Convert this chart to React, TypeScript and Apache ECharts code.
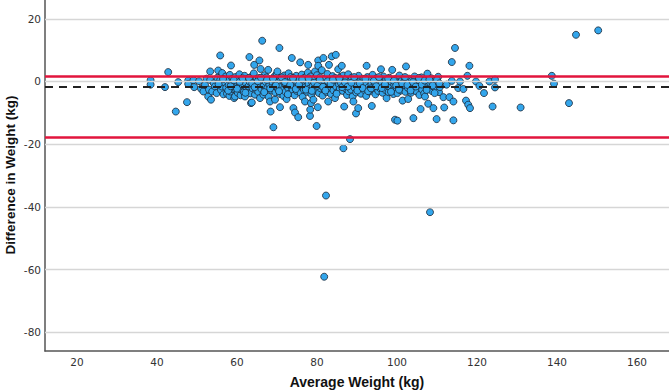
import React, { useEffect, useRef } from "react";
import * as echarts from "echarts";

const xTickLabels = [20, 40, 60, 80, 100, 120, 140, 160];
const yTickLabels = [-80, -60, -40, -20, 0, 20];
const yAxisTitle = "Difference in Weight (kg)";

const meanDiff = -1.6;
const upperLoA = 1.8;
const lowerLoA = -17.8;

const lowRangePoints: [number, number][] = [
  [38.4, 0.4], [38.4, -1.0], [42.0, -1.8], [42.8, 3.0], [44.7, -9.6], [45.3, -0.2], [47.5, -6.6],
  [47.8, 0.3], [47.8, -0.8], [49.1, 0.4], [49.3, -1.8], [50.5, 0.1], [51.0, -2.3], [51.6, -3.2],
  [52.0, -1.1], [52.4, 0.9], [52.8, -4.8], [53.0, -2.6], [53.3, 0.5], [53.3, 3.2], [53.5, -5.8],
  [53.8, -3.2], [54.2, -0.6], [54.5, -1.6], [54.9, -3.7], [55.1, 1.2], [55.3, 3.5], [55.8, 8.3],
  [55.8, 0.5], [56.0, -2.7], [56.2, -1.6], [56.3, 2.7], [56.6, -4.1], [56.9, -0.3],
];

const midRangePoints: [number, number][] = [
  [57.2, 1.6], [57.3, -2.0], [57.5, -3.9], [57.6, 0.2], [57.9, -1.2],
  [58.1, -4.6], [58.2, 2.1], [58.3, -3.2], [58.5, 5.1], [58.6, -0.7], [58.8, -2.4], [58.9, 0.9],
  [59.1, -1.6], [59.3, -5.3], [59.5, -4.8], [59.6, 1.4], [59.8, -2.8], [59.9, -0.2],
  [60.1, 0.7], [60.2, -3.6], [60.4, -1.9], [60.6, 2.3], [60.8, -0.9], [60.9, -4.4],
  [61.1, -2.5], [61.3, 0.3], [61.5, -1.3], [61.7, -3.4], [61.9, 1.8],
  [62.0, -4.8], [62.2, -0.5], [62.4, -2.1], [62.6, 0.9], [62.8, -3.0], [62.9, -1.5],
  [63.1, 7.8], [63.2, -0.1], [63.4, -3.8], [63.5, -6.9], [63.6, 1.5], [63.7, -6.7], [63.9, -2.2],
  [64.0, -1.0], [64.2, 2.6], [64.3, 5.3], [64.5, -4.2], [64.6, -0.4], [64.8, -2.7], [64.9, 0.8],
  [65.1, -1.8], [65.3, -3.3], [65.5, 1.1], [65.6, 6.7], [65.75, -5.3], [65.9, 4.0], [65.9, -0.8],
  [66.1, -2.4], [66.3, 13.0], [66.4, 0.4], [66.6, -4.2], [66.7, -1.4], [66.9, 2.0],
  [67.0, -3.1], [67.2, -0.2], [67.4, 1.3], [67.6, -2.0], [67.8, 3.7], [67.9, -4.9],
  [68.1, -1.1], [68.25, -6.4], [68.4, -9.6], [68.5, 0.6], [68.7, -2.9], [68.9, -0.4],
  [69.1, -14.6], [69.2, -1.9], [69.3, 1.5], [69.5, -5.8], [69.6, -3.5], [69.8, -0.9], [69.9, 2.4],
  [70.1, 3.2], [70.2, -2.3], [70.4, -0.1], [70.6, 10.7], [70.75, -8.2], [70.8, -4.0], [70.9, 1.0],
  [71.1, -1.5], [71.3, -2.8], [71.5, 0.3], [71.6, -4.6], [71.8, 1.9], [71.9, -0.7],
  [72.1, -3.3], [72.3, -1.2], [72.4, -5.6], [72.6, 0.8], [72.8, -2.1], [72.9, 2.6],
  [73.0, -0.3], [73.2, -3.8], [73.4, 1.4], [73.6, -1.7], [73.7, 7.5], [73.9, -2.6],
  [74.1, -8.5], [74.2, 0.5], [74.4, -4.4], [74.5, -9.9], [74.6, -1.0], [74.8, 1.8], [74.9, -3.0],
  [75.1, -0.4], [75.3, -11.4], [75.4, -2.2], [75.6, 0.9], [75.8, 6.1], [75.9, -3.6],
  [76.0, -1.4], [76.2, 2.2], [76.4, -4.9], [76.5, -0.1], [76.7, -2.6], [76.9, 1.2],
  [77.0, -6.4], [77.1, -1.8], [77.3, 0.4], [77.5, -3.3], [77.7, 2.8], [77.8, 5.3], [77.9, -0.8],
  [78.1, -2.3], [78.25, -11.0], [78.3, -9.0], [78.4, 1.6], [78.5, -6.9], [78.6, -4.1], [78.8, -0.3], [78.9, -1.5],
  [79.1, -5.8], [79.2, 0.8], [79.4, -2.9], [79.5, 3.2], [79.7, -1.1], [79.9, -14.2],
  [80.0, 2.0], [80.2, -8.2], [80.3, 6.7], [80.3, 5.0], [80.5, -3.7], [80.6, -0.6], [80.8, 1.3], [80.9, -2.2],
  [81.0, -1.0], [81.2, 3.6], [81.4, -4.5], [81.6, 7.5], [81.7, 0.2], [81.9, -2.7],
  [82.0, -1.6], [82.2, 1.0], [82.4, -3.4], [82.6, 2.4], [82.8, -6.4], [82.9, -0.4],
  [83.0, 5.3], [83.1, -2.0], [83.3, 0.6], [83.5, -4.0], [83.7, 8.0], [83.8, -1.2], [83.9, 1.7],
  [84.1, -2.8], [84.3, -0.2], [84.5, -5.3], [84.6, 1.1], [84.7, 8.5], [84.8, -1.7],
  [85.0, -3.5], [85.2, 0.4], [85.3, 3.9], [85.5, -1.0], [85.7, -2.4], [85.9, 1.5],
  [86.0, -0.5], [86.2, 5.0], [86.4, -3.0], [86.6, -21.3], [86.6, 1.9], [86.8, -8.0], [86.9, -1.5],
  [87.1, -2.2], [87.3, 0.7], [87.5, -4.3], [87.6, -0.9], [87.8, 2.3], [87.9, -3.1],
  [88.0, -1.3], [88.25, -18.4], [88.3, 0.2], [88.5, -2.6], [88.7, 1.2], [88.9, -4.8],
  [89.1, -6.4], [89.2, -0.6], [89.4, -2.0], [89.75, -10.2], [89.6, 0.9], [89.8, -3.5],
  [90.0, -1.1], [90.3, -8.5], [90.4, 1.8], [90.6, -2.4], [90.8, 0.1],
];

const upperRangePoints: [number, number][] = [
  [91.0, -3.9], [91.3, -1.4], [91.6, 0.8], [91.8, -2.7],
  [92.0, -0.3], [92.4, 5.0], [92.3, -4.6], [92.6, 1.4], [92.9, -1.8],
  [93.1, -3.2], [93.3, 0.5], [93.7, -7.8], [93.6, -1.0], [93.9, 2.1],
  [94.1, -2.3], [94.4, -0.4], [94.6, -4.1], [94.9, 1.0],
  [95.1, -1.6], [95.3, -3.0], [95.6, 0.3], [95.8, -2.2],
  [96.0, 3.9], [96.1, -0.8], [96.4, -3.6], [96.6, 1.6], [96.9, -1.3],
  [97.1, -2.7], [97.4, -5.3], [97.3, 0.6], [97.7, -0.5], [97.9, -3.4],
  [98.1, 1.2], [98.3, -1.9], [98.6, -0.1], [98.8, 3.7], [98.9, -2.8],
  [99.1, -4.0], [99.3, -1.0], [99.5, -12.2], [99.6, 0.8], [99.9, -2.1],
  [100.1, -3.7], [100.1, -12.5], [100.3, -0.6], [100.6, 1.9], [100.8, -1.6],
  [101.0, -2.9], [101.2, 0.3], [101.4, -6.1], [101.6, -1.2], [101.9, 1.1],
  [102.1, -3.3], [102.25, 4.8], [102.4, -0.4], [102.8, -5.6], [102.7, -2.0],
  [103.0, 0.9], [103.2, -1.5], [103.5, -3.6], [103.7, 0.2], [103.9, -2.4],
  [104.1, -11.7], [104.2, -0.8], [104.4, 1.6], [104.6, -2.9], [104.9, -3.2],
  [105.1, -1.1], [105.3, 0.5], [105.6, -4.3], [105.9, -8.8], [105.9, -1.9],
  [106.1, 1.3], [106.3, -2.6], [106.6, -0.3], [106.8, -3.8],
  [107.0, -4.8], [107.2, -1.3], [107.5, 0.7], [107.6, 2.5], [107.8, -7.1],
  [108.0, -2.2], [108.3, -0.5], [108.6, 1.0], [108.8, -3.1],
  [109.1, -8.5], [109.2, -1.7], [109.5, 0.3], [109.7, -2.6], [109.9, -12.0],
  [110.1, -0.9], [110.3, 1.5], [110.5, -3.4], [110.7, -1.8],
];

const bandFillPoints: [number, number][] = [
  [55.4, -0.9], [56.5, 0.8], [57.8, -2.9], [58.4, -1.5], [59.2, 0.4], [60.0, -2.3], [60.7, -0.1],
  [61.4, 1.0], [62.1, -3.6], [63.0, 1.1], [63.8, -0.6], [64.4, -1.8], [65.2, 0.1], [66.0, 1.2],
  [66.8, -3.4], [67.5, 0.5], [68.3, -2.2], [69.0, 0.9], [69.7, -1.3], [70.5, -3.1], [71.2, 1.3],
  [72.0, -0.2], [72.7, -4.1], [73.3, -1.1], [74.0, 1.1], [74.7, -2.4], [75.5, -1.0], [76.3, 0.7],
  [77.2, -2.6], [77.9, 1.0], [78.7, -3.0], [79.3, -0.4], [80.1, -1.4], [80.7, 0.6], [81.5, -1.7],
  [82.1, -2.9], [82.7, 0.1], [83.4, -0.8], [84.0, 0.6], [84.9, -3.9], [85.6, 1.0], [86.3, -1.8],
  [87.0, -0.3], [87.7, -1.6], [88.6, -0.4], [89.3, 1.4], [90.1, -2.9], [90.7, -0.6], [91.4, -2.1],
  [92.1, 0.9], [92.8, -3.1], [93.5, -2.2], [94.2, 0.2], [94.8, -1.5], [95.5, 1.4], [96.2, -2.1],
  [97.0, -0.9], [97.8, 0.9], [98.5, -3.3], [99.2, 0.2], [99.8, -1.3], [100.5, -2.6], [101.3, -0.7],
  [102.0, 1.4], [102.6, -1.1], [103.4, -2.9], [104.0, -0.2], [104.7, -1.6], [105.5, 1.1],
  [106.2, -1.0], [106.9, 0.3], [107.4, -2.7], [108.1, 0.6], [108.9, -1.3], [109.4, -3.7],
  [110.0, 0.5], [110.6, -0.6],
];

const highRangePoints: [number, number][] = [
  [111.6, -5.0], [111.8, -8.3], [112.4, -1.0], [113.1, -5.0], [113.7, 6.2], [113.7, 0.2],
  [114.1, -6.4], [114.1, -12.4], [114.5, 10.7], [115.3, -2.1], [115.75, 0.0], [116.6, -2.4],
  [117.25, -6.1], [117.6, 1.8], [117.8, -7.4], [118.1, 5.0], [118.25, -8.5], [119.75, 0.0],
  [120.6, -1.4], [121.75, -3.7], [123.1, 0.0], [123.9, -8.0], [124.5, 0.6], [124.5, -1.9],
  [130.9, -8.3], [138.7, 1.8], [139.25, -0.7], [143.0, -6.9], [144.75, 14.9], [150.3, 16.3],
];

const outlierPoints: [number, number][] = [
  [81.8, -62.3], [82.25, -36.4], [108.25, -41.7],
];

export default function App() {
  const ref = useRef<HTMLDivElement>(null);

  useEffect(() => {
    if (!ref.current) return;
    const chart = echarts.init(ref.current, undefined, { renderer: "svg" });
    const allPoints = [
      ...lowRangePoints,
      ...midRangePoints,
      ...upperRangePoints,
      ...bandFillPoints,
      ...highRangePoints,
      ...outlierPoints,
    ];
    const tickFont = "DejaVu Sans, Verdana, sans-serif";
    const titleFont = "Liberation Sans, Arial, sans-serif";
    chart.setOption({
      animation: false,
      backgroundColor: "#ffffff",
      grid: { left: 45, right: 0, top: 0, bottom: 41, containLabel: false, outerBoundsMode: "none" },
      graphic: [
        {
          type: "text",
          x: 10,
          y: 175,
          rotation: Math.PI / 2,
          style: {
            text: yAxisTitle,
            fontFamily: titleFont,
            fontWeight: "bold",
            fontSize: 13.5,
            fill: "#111",
            align: "center",
            verticalAlign: "middle",
          },
        },
      ],
      xAxis: {
        type: "value",
        min: 12,
        max: 168,
        name: "Average Weight (kg)",
        nameLocation: "middle",
        nameGap: 24,
        nameTextStyle: { fontFamily: titleFont, fontWeight: "bold", fontSize: 14, color: "#111" },
        axisLine: { show: true, onZero: false, lineStyle: { color: "#555", width: 1.5 } },
        axisTick: { show: false },
        splitLine: { show: false },
        axisLabel: {
          customValues: xTickLabels,
          fontFamily: tickFont,
          fontSize: 10.5,
          color: "#333",
          margin: 5,
        },
      },
      yAxis: {
        type: "value",
        min: -86,
        max: 26,
        axisLine: { show: true, onZero: false, lineStyle: { color: "#555", width: 1.5 } },
        axisTick: { show: false },
        splitLine: { show: false },
        axisLabel: {
          customValues: yTickLabels,
          fontFamily: tickFont,
          fontSize: 10.5,
          color: "#333",
          margin: 4,
        },
      },
      series: [
        {
          type: "scatter",
          data: [],
          z: 1,
          silent: true,
          markLine: {
            silent: true,
            symbol: ["none", "none"],
            label: { show: false },
            lineStyle: { color: "#d6d6d6", width: 1.3, type: "solid" },
            data: yTickLabels.map((v) => ({ yAxis: v })),
          },
        },
        {
          type: "scatter",
          data: allPoints,
          z: 2,
          symbolSize: 7,
          itemStyle: { color: "#33a6ec", borderColor: "#1b2635", borderWidth: 0.8, opacity: 1 },
        },
        {
          type: "scatter",
          data: [],
          z: 5,
          silent: true,
          markLine: {
            silent: true,
            symbol: ["none", "none"],
            label: { show: false },
            data: [
              { yAxis: upperLoA, lineStyle: { color: "#e2153d", width: 2.5, type: "solid" } },
              { yAxis: lowerLoA, lineStyle: { color: "#e2153d", width: 2.5, type: "solid" } },
              { yAxis: meanDiff, lineStyle: { color: "#222", width: 2, type: [8, 6] } },
            ],
          },
        },
      ],
    });
    return () => chart.dispose();
  }, []);

  return (
    <div
      ref={ref}
      style={{ position: "fixed", left: 0, top: 0, width: 669, height: 392, background: "#fff" }}
    />
  );
}
